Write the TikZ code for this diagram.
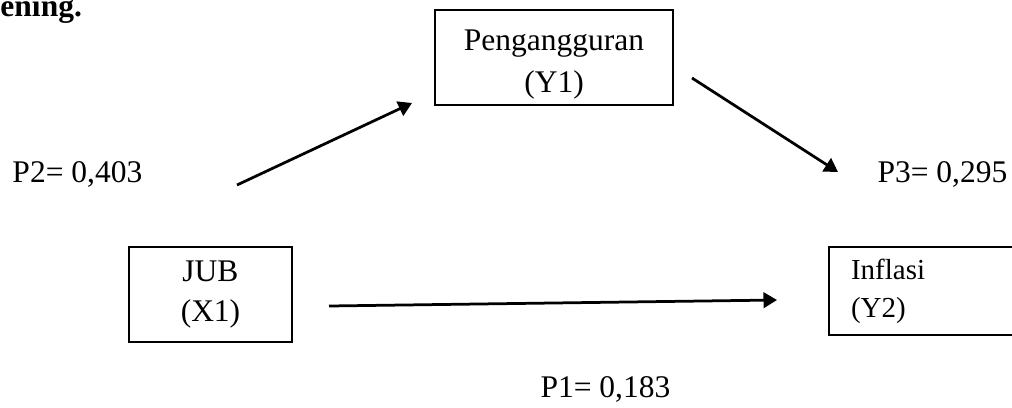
\documentclass[tikz,border=0pt]{standalone}
\usepackage{fontspec}
\setmainfont{Liberation Serif}
\usetikzlibrary{arrows.meta}
\begin{document}
\begin{tikzpicture}[x=0.4pt,y=-0.4pt,
  every node/.style={font=\fontsize{12.6}{15.8}\selectfont},
  varbox/.style={draw,line width=0.8pt,inner sep=0pt,align=center},
  lbl/.style={anchor=base west,inner sep=0pt},
  arr/.style={line width=1.1pt,-{Triangle[length=5.4pt,width=6.2pt]}}]
\useasboundingbox[clip] (0,0) rectangle (1012,407);
\node[lbl,font=\fontsize{12.6}{15.8}\selectfont\bfseries] (ttl) at (0,16.5) {ening.};
\node[varbox,minimum width=238*0.4pt,minimum height=95*0.4pt,font=\fontsize{12.6}{16.6}\selectfont] (y1) at (554,57.5) {\rule{0pt}{14pt}Pengangguran\\(Y1)};
\node[varbox,minimum width=163*0.4pt,minimum height=95*0.4pt] (x1) at (210.5,294.5) {JUB\\(X1)};
\node[varbox,anchor=west,align=left,text width=156*0.4pt,inner xsep=22*0.4pt,minimum height=88*0.4pt,font=\fontsize{11.6}{15.2}\selectfont] (y2) at (828,291) {Inflasi\\(Y2)};
\node[lbl] (p2) at (12,182) {P2= 0,403};
\node[lbl] (p3) at (877,182) {P3= 0,295};
\node[lbl] (p1) at (540,397) {P1= 0,183};
\coordinate (a1s) at (237,185);
\coordinate (a1e) at (412,103);
\coordinate (a2s) at (692,78);
\coordinate (a2e) at (838,172);
\coordinate (a3s) at (329,306);
\coordinate (a3e) at (777,300);
\draw[arr] (a1s) -- (a1e);
\draw[arr] (a2s) -- (a2e);
\draw[arr] (a3s) -- (a3e);
\end{tikzpicture}
\end{document}
